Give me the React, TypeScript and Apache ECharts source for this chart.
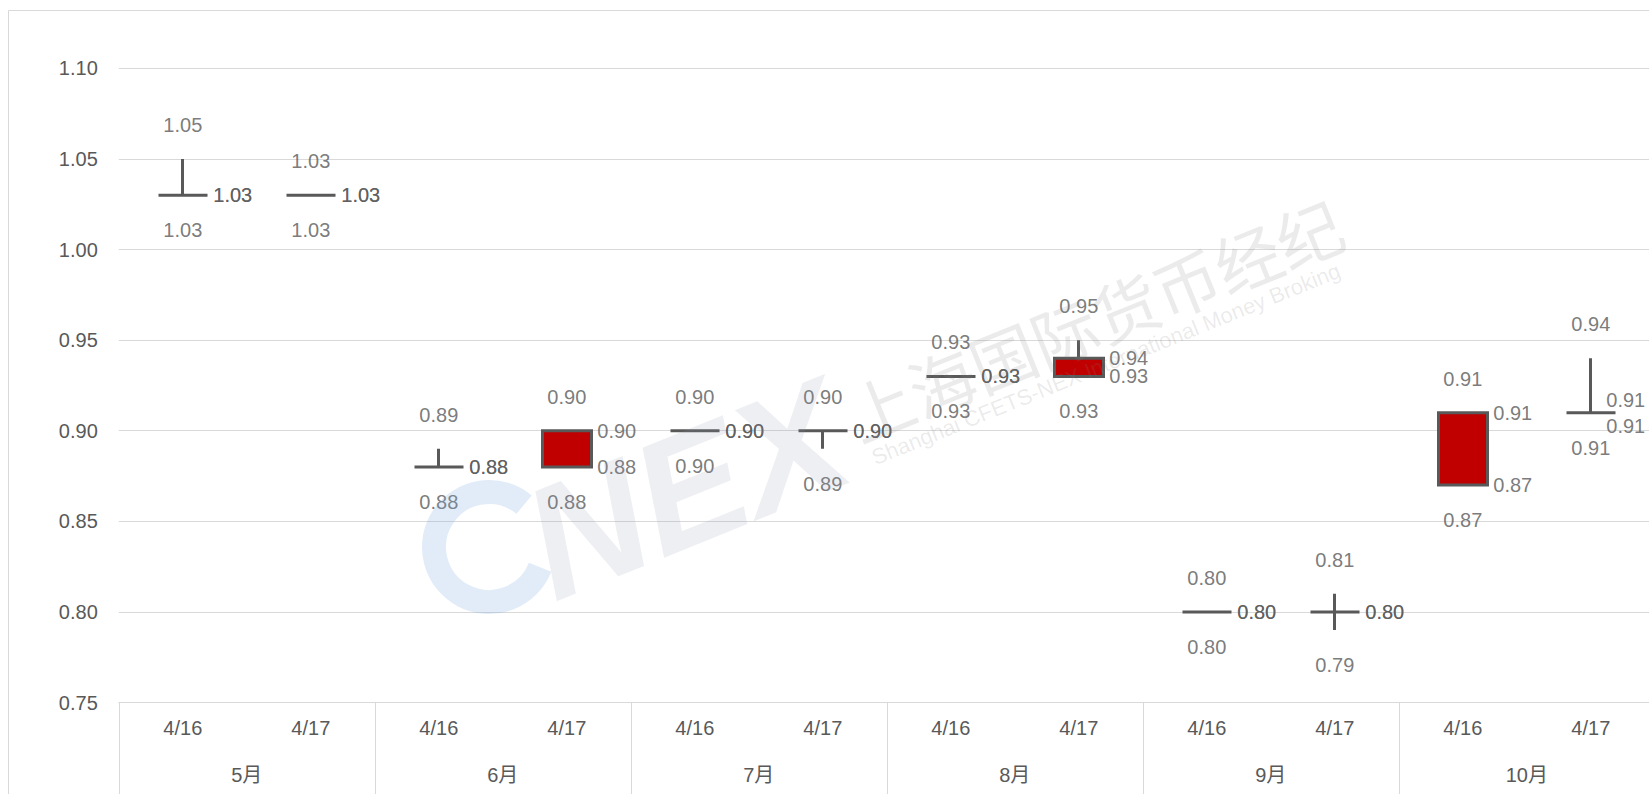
import React, { useEffect, useRef } from 'react';
import * as echarts from 'echarts';

// ---- data ----
const dates = ['4/16', '4/17', '4/16', '4/17', '4/16', '4/17', '4/16', '4/17', '4/16', '4/17', '4/16', '4/17'];
const months = ['5月', '6月', '7月', '8月', '9月', '10月'];
const openVals = [1.03, 1.03, 0.88, 0.90, 0.90, 0.90, 0.93, 0.94, 0.80, 0.80, 0.91, 0.91];
const closeVals = [1.03, 1.03, 0.88, 0.88, 0.90, 0.90, 0.93, 0.93, 0.80, 0.80, 0.87, 0.91];
const lowVals = [1.03, 1.03, 0.88, 0.88, 0.90, 0.89, 0.93, 0.93, 0.80, 0.79, 0.87, 0.91];
const highVals = [1.05, 1.03, 0.89, 0.90, 0.90, 0.90, 0.93, 0.95, 0.80, 0.81, 0.91, 0.94];
const yMin = 0.75;
const yMax = 1.1;
const yStep = 0.05;

const FONT = "'Liberation Sans', 'Noto Sans CJK SC', sans-serif";
const TEXT = '#595959';
const GRID = '#d9d9d9';

export default function App() {
  const ref = useRef<HTMLDivElement>(null);

  useEffect(() => {
    const chart = echarts.init(ref.current as HTMLDivElement, null, { renderer: 'svg' });

    const labelSeries = (name: string, vals: number[], label: any, overrides: Record<number, any> = {}) => ({
      type: 'scatter',
      name,
      xAxisIndex: 0,
      yAxisIndex: 0,
      symbolSize: 1,
      silent: true,
      z: 5,
      itemStyle: { color: 'rgba(0,0,0,0)' },
      label: {
        show: true,
        color: TEXT,
        fontSize: 20,
        fontFamily: FONT,
        formatter: (p: any) => Number(p.value[1]).toFixed(2),
        ...label,
      },
      data: vals.map((v, i) => (overrides[i] ? { value: [i, v], label: overrides[i] } : [i, v])),
    });

    const rot = (22 * Math.PI) / 180;

    const option: any = {
      animation: false,
      backgroundColor: '#ffffff',
      grid: { left: 118.8, right: 45.2, top: 68.4, bottom: 91.5, containLabel: false },
      xAxis: [
        {
          type: 'category',
          data: dates,
          position: 'bottom',
          boundaryGap: true,
          axisLine: { show: true, lineStyle: { color: GRID, width: 1 } },
          axisTick: { show: false },
          axisLabel: { color: TEXT, fontSize: 20, fontFamily: FONT, margin: 15, interval: 0 },
          splitLine: { show: false },
        },
        {
          type: 'category',
          data: months,
          position: 'bottom',
          boundaryGap: true,
          axisLine: { show: false },
          axisTick: { show: true, length: 92, interval: 0, lineStyle: { color: GRID, width: 1 } },
          axisLabel: { color: TEXT, fontSize: 20, fontFamily: FONT, margin: 62, interval: 0 },
          splitLine: { show: false },
        },
      ],
      yAxis: {
        type: 'value',
        min: yMin,
        max: yMax,
        interval: yStep,
        axisLine: { show: false },
        axisTick: { show: false },
        axisLabel: {
          color: TEXT,
          fontSize: 20,
          fontFamily: FONT,
          margin: 21,
          formatter: (v: number) => v.toFixed(2),
        },
        splitLine: { show: true, lineStyle: { color: GRID, width: 1 } },
      },
      series: [
        {
          type: 'candlestick',
          xAxisIndex: 0,
          yAxisIndex: 0,
          barWidth: 50,
          z: 3,
          itemStyle: {
            color: '#c00000',
            color0: '#c00000',
            borderColor: '#595959',
            borderColor0: '#595959',
            borderColorDoji: '#595959',
            borderWidth: 3,
          },
          data: dates.map((_, i) => [openVals[i], closeVals[i], lowVals[i], highVals[i]]),
        },
        labelSeries('high', highVals, { position: 'inside', offset: [0, -34] }),
        labelSeries('low', lowVals, { position: 'inside', offset: [0, 35] }),
        labelSeries('open', openVals, { position: 'right', distance: 30 }, { 11: { offset: [-15, -13] } }),
        labelSeries('close', closeVals, { position: 'right', distance: 30 }, { 11: { offset: [-15, 13] } }),
      ],
      graphic: [
        {
          type: 'rect',
          silent: true,
          z: 0,
          shape: { x: 8.5, y: 10.5, width: 1800, height: 900 },
          style: { fill: 'none', stroke: GRID, lineWidth: 1 },
        },
        {
          type: 'arc',
          silent: true,
          z: 100,
          shape: { cx: 489, cy: 547, r: 55, startAngle: Math.PI * 0.12, endAngle: Math.PI * 1.72, clockwise: true },
          style: { fill: 'none', stroke: 'rgba(120,170,225,0.22)', lineWidth: 24 },
        },
        {
          type: 'text',
          silent: true,
          z: 100,
          x: 686,
          y: 489,
          rotation: rot,
          style: {
            text: 'NEX',
            fontSize: 160,
            fontWeight: 'bold',
            fontStyle: 'italic',
            fontFamily: FONT,
            fill: 'rgba(140,150,175,0.15)',
            align: 'center',
            verticalAlign: 'middle',
          },
        },
        {
          type: 'text',
          silent: true,
          z: 100,
          x: 1094,
          y: 318,
          rotation: rot,
          style: {
            text: '上海国际货币经纪',
            fontSize: 66,
            fontFamily: "'Noto Sans CJK SC', sans-serif",
            fill: 'rgba(130,130,130,0.16)',
            align: 'center',
            verticalAlign: 'middle',
          },
        },
        {
          type: 'text',
          silent: true,
          z: 100,
          x: 1106,
          y: 364,
          rotation: rot,
          style: {
            text: 'Shanghai CFETS-NEX International Money Broking',
            fontSize: 22,
            fontFamily: FONT,
            fill: 'rgba(130,130,130,0.16)',
            align: 'center',
            verticalAlign: 'middle',
          },
        },
      ],
    };

    chart.setOption(option);
    return () => chart.dispose();
  }, []);

  return (
    <div
      style={{
        position: 'fixed',
        left: 0,
        top: 0,
        width: 1649,
        height: 794,
        overflow: 'hidden',
        background: '#ffffff',
      }}
    >
      <div ref={ref} style={{ width: 1700, height: 794 }} />
    </div>
  );
}
